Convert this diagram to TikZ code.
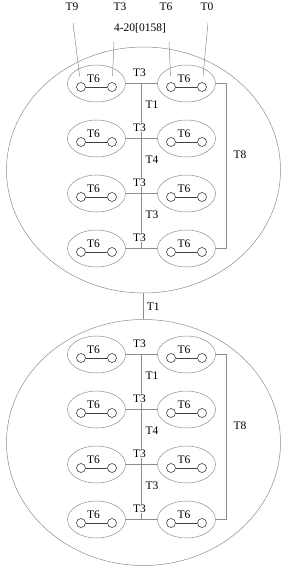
\documentclass[tikz,border=0pt]{standalone}
\usepackage{fontspec}
\setmainfont{Liberation Serif}
\usetikzlibrary{shapes.geometric,calc}
\definecolor{wiregray}{HTML}{8C8C8C}
\definecolor{portgray}{HTML}{404040}

\begin{document}
\begin{tikzpicture}[
    x=1pt, y=-1pt,
    font=\fontsize{11.5}{13}\selectfont,
    grp/.style={ellipse, draw=wiregray, line width=0.5pt, minimum width=274pt,
                minimum height=246pt, inner sep=0pt},
    pair/.style={ellipse, draw=wiregray, line width=0.5pt, minimum width=58pt,
                 minimum height=37pt, inner sep=0pt},
    port/.style={circle, draw=portgray, line width=0.6pt, minimum size=9pt, inner sep=0pt},
    wire/.style={draw=wiregray, line width=0.5pt},
    link/.style={draw=portgray, line width=0.6pt},
    lead/.style={wire, shorten >=6pt},
    lab/.style={inner sep=0pt},
    cut/.style={lab, fill=white, inner sep=1pt}
  ]
  \useasboundingbox (0,0) rectangle (287,570);

  % the two groups
  \node[grp] (up) at (143.5,170) {};
  \node[grp] (lo) at (143.5,442.5) {};
  \draw[wire] (up.south) -- (lo.north) node[midway, right=3pt, lab] {T1};

  % pairs, row by row
  \foreach \g/\b in {u/83.5, l/354.5}{
    \foreach \r in {1,...,4}{
      \pgfmathsetmacro{\y}{\b+55*(\r-1)}
      \node[pair] (\g\r-l) at (96.5,\y) {};
      \node[pair] (\g\r-r) at (186.5,\y) {};
      \node[port] (\g\r-l1) at (81,\y+3.5) {};
      \node[port] (\g\r-l2) at (112,\y+3.5) {};
      \node[port] (\g\r-r1) at (171,\y+3.5) {};
      \node[port] (\g\r-r2) at (202,\y+3.5) {};
      \node[lab] (\g\r-lt) at (93.5,\y-5) {T6};
      \node[lab] (\g\r-rt) at (184,\y-5) {T6};
      \draw[link] (\g\r-l1) -- (\g\r-l2);
      \draw[link] (\g\r-r1) -- (\g\r-r2);
      \draw[wire] (\g\r-l.east) -- (\g\r-r.west);
      \coordinate (\g\r-j) at ($(\g\r-l.east)!0.5!(\g\r-r.west)$);
    }
    % trunk and side bus
    \draw[wire] (\g1-j) -- (\g4-j);
    \foreach \r in {1,...,4}
      \node[cut] (\g\r-jt) at ($(\g\r-j)+(-2,-11)$) {T3};
    \foreach \r/\t in {1/T1, 2/T4, 3/T3}
      \node[lab] (\g\r-st) at (152,\b+55*\r-55+21.5) {\t};
    \coordinate (\g-k1) at (226,\b);
    \coordinate (\g-k4) at (226,\b+165);
    \draw[wire] (\g1-r.east) -- (\g-k1) -- (\g-k4) -- (\g4-r.east);
    \node[lab] (\g-t8) at (240,\b+71.5) {T8};
  }

  % leads on top
  \node[lab] (t9) at (72,7) {T9};
  \node[lab] (t3) at (120,7) {T3};
  \node[lab] (t6) at (166,7) {T6};
  \node[lab] (t0) at (207,7) {T0};
  \node[lab] (addr) at (140,28) {4-20[0158]};
  \coordinate (t9-end) at (73,23);
  \coordinate (t3-end) at (114,42);
  \coordinate (t6-end) at (169,42);
  \coordinate (t0-end) at (208,23);
  \draw[lead] (t9-end) -- (u1-l1);
  \draw[lead] (t3-end) -- (u1-l2);
  \draw[lead] (t6-end) -- (u1-r1);
  \draw[lead] (t0-end) -- (u1-r2);
\end{tikzpicture}
\end{document}
